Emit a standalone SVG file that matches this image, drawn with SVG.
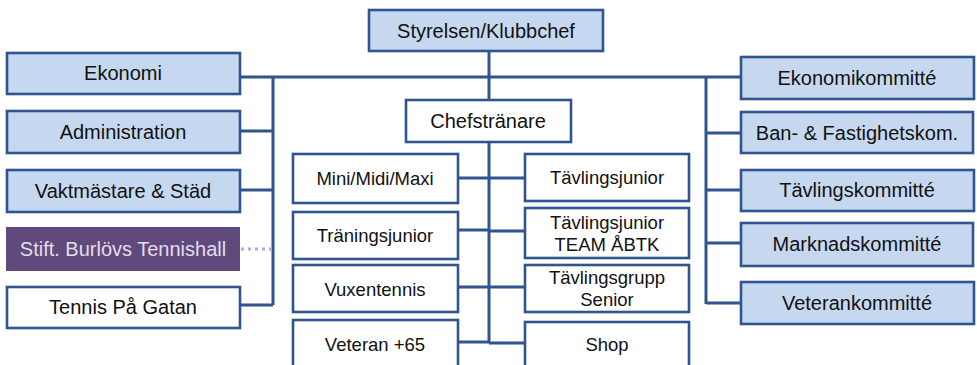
<svg xmlns="http://www.w3.org/2000/svg" width="977" height="365" viewBox="0 0 977 365">
<style>
.blue{fill:#C6D8F0;stroke:#2F5490;stroke-width:2.6}
.white{fill:#FFFFFF;stroke:#2F5490;stroke-width:2.6}
.purple{fill:#604A7B;stroke:none}
.t{font-family:"Liberation Sans",Arial,sans-serif;font-size:20px;fill:#111;text-anchor:middle}
.s{font-family:"Liberation Sans",Arial,sans-serif;font-size:18.5px;fill:#111;text-anchor:middle}
.lt{fill:#E4DDEC}
.ln{fill:none;stroke:#2F5490;stroke-width:3}
.dot{fill:none;stroke:#B7A6D4;stroke-width:3;stroke-dasharray:3 4}
</style>
<g id="connectors">
<path class="ln" d="M240 77H741"/>
<path class="ln" d="M489 51V100"/>
<path class="ln" d="M489 142V343"/>
<path class="ln" d="M273 77V305M240 131H273M240 190H273M240 305H273"/>
<path class="ln" d="M706 77V304M706 133H741M706 190H741M706 243H741M706 303H741"/>
<path class="ln" d="M458 178H489M458 230H489M458 287H489M458 342H489"/>
<path class="ln" d="M489 178H525M489 231H525M489 287H525M489 343H525"/>
<path class="dot" d="M241 249H273"/>
</g>
<g id="styrelsen"><rect class="blue" x="369" y="10" width="234" height="41"/><text class="t" x="486" y="38">Styrelsen/Klubbchef</text></g>
<g id="ekonomi"><rect class="blue" x="7" y="53" width="233" height="41"/><text class="t" x="123" y="80">Ekonomi</text></g>
<g id="administration"><rect class="blue" x="7" y="111" width="233" height="42"/><text class="t" x="123" y="139">Administration</text></g>
<g id="vaktmastare"><rect class="blue" x="7" y="170" width="233" height="42"/><text class="t" x="123" y="198">Vaktmästare &amp; Städ</text></g>
<g id="stift"><rect class="purple" x="6" y="227" width="234" height="44"/><text class="t lt" x="123" y="256">Stift. Burlövs Tennishall</text></g>
<g id="tennis-pa-gatan"><rect class="white" x="7" y="287" width="233" height="41"/><text class="t" x="123" y="314">Tennis På Gatan</text></g>
<g id="chefstranare"><rect class="white" x="406" y="100" width="165" height="42"/><text class="t" x="488" y="128">Chefstränare</text></g>
<g id="mini"><rect class="white" x="293" y="154" width="165" height="49"/><text class="s" x="375" y="185">Mini/Midi/Maxi</text></g>
<g id="traningsjunior"><rect class="white" x="293" y="212" width="165" height="47"/><text class="s" x="375" y="242">Träningsjunior</text></g>
<g id="vuxentennis"><rect class="white" x="293" y="265" width="165" height="47"/><text class="s" x="375" y="296">Vuxentennis</text></g>
<g id="veteran65"><rect class="white" x="293" y="320" width="165" height="50"/><text class="s" x="375" y="351">Veteran +65</text></g>
<g id="tavlingsjunior"><rect class="white" x="525" y="154" width="164" height="47"/><text class="s" x="607" y="184">Tävlingsjunior</text></g>
<g id="tavlingsjunior-team"><rect class="white" x="525" y="208" width="164" height="50"/><text class="s" x="607" y="229">Tävlingsjunior</text><text class="s" x="607" y="251">TEAM ÅBTK</text></g>
<g id="tavlingsgrupp"><rect class="white" x="525" y="265" width="164" height="47"/><text class="s" x="607" y="284">Tävlingsgrupp</text><text class="s" x="607" y="306">Senior</text></g>
<g id="shop"><rect class="white" x="525" y="322" width="164" height="50"/><text class="s" x="607" y="351">Shop</text></g>
<g id="ekonomikommitte"><rect class="blue" x="741" y="57" width="233" height="42"/><text class="t" x="857" y="85">Ekonomikommitté</text></g>
<g id="ban-fastighet"><rect class="blue" x="741" y="112" width="232" height="41"/><text class="t" x="857" y="140">Ban- &amp; Fastighetskom.</text></g>
<g id="tavlingskommitte"><rect class="blue" x="741" y="170" width="233" height="41"/><text class="t" x="857" y="197">Tävlingskommitté</text></g>
<g id="marknadskommitte"><rect class="blue" x="741" y="223" width="232" height="43"/><text class="t" x="857" y="251">Marknadskommitté</text></g>
<g id="veterankommitte"><rect class="blue" x="741" y="282" width="233" height="42"/><text class="t" x="857" y="310">Veterankommitté</text></g>
</svg>
